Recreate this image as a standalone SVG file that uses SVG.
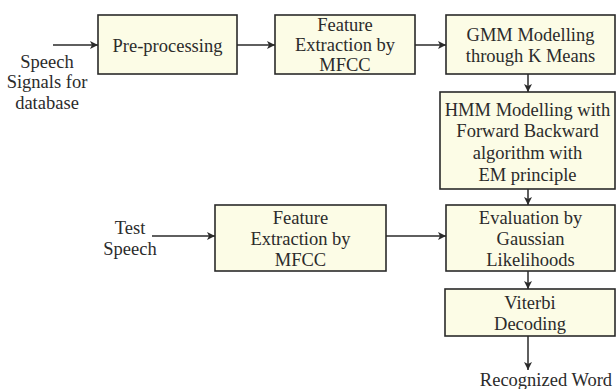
<svg xmlns="http://www.w3.org/2000/svg" width="616" height="389" viewBox="0 0 616 389">
  <style>
    .box { fill: #fcfce6; stroke: #2a2a2a; stroke-width: 1.6; }
    .lbl { font-family: "Liberation Serif", "Times New Roman", serif; font-size: 18.5px; fill: #2b2b2b; text-anchor: middle; }
    .wire { stroke: #2a2a2a; stroke-width: 1.5; fill: none; marker-end: url(#arrow); }
  </style>
  <defs>
    <marker id="arrow" viewBox="0 0 10 10" refX="10" refY="5" markerWidth="8" markerHeight="8" markerUnits="userSpaceOnUse" orient="auto">
      <path d="M0,0 L10,5 L0,10 L2.5,5 Z" fill="#2a2a2a"/>
    </marker>
  </defs>
  <rect width="616" height="389" fill="#ffffff"/>

  <!-- free-standing inputs and output -->
  <g id="input-db">
    <text class="lbl" x="47" y="68">Speech</text>
    <text class="lbl" x="47" y="88">Signals for</text>
    <text class="lbl" x="47" y="109">database</text>
  </g>
  <g id="input-test">
    <text class="lbl" x="130" y="234">Test</text>
    <text class="lbl" x="130" y="255">Speech</text>
  </g>
  <g id="output-word">
    <text class="lbl" x="546" y="386">Recognized Word</text>
  </g>

  <!-- processing blocks -->
  <g id="preprocessing">
    <rect class="box" x="98" y="15" width="139" height="59"/>
    <text class="lbl" x="167.5" y="52">Pre-processing</text>
  </g>
  <g id="mfcc-train">
    <rect class="box" x="275" y="15" width="140" height="59"/>
    <text class="lbl" x="345" y="31">Feature</text>
    <text class="lbl" x="345" y="51">Extraction by</text>
    <text class="lbl" x="345" y="71">MFCC</text>
  </g>
  <g id="gmm">
    <rect class="box" x="446" y="15" width="169" height="59"/>
    <text class="lbl" x="530.5" y="41">GMM Modelling</text>
    <text class="lbl" x="530.5" y="62">through K Means</text>
  </g>
  <g id="hmm">
    <rect class="box" x="440" y="92" width="175" height="97"/>
    <text class="lbl" x="527.5" y="116">HMM Modelling with</text>
    <text class="lbl" x="527.5" y="137">Forward Backward</text>
    <text class="lbl" x="527.5" y="159">algorithm with</text>
    <text class="lbl" x="527.5" y="181">EM principle</text>
  </g>
  <g id="mfcc-test">
    <rect class="box" x="215" y="205" width="171" height="66"/>
    <text class="lbl" x="300.5" y="224">Feature</text>
    <text class="lbl" x="300.5" y="245">Extraction by</text>
    <text class="lbl" x="300.5" y="266">MFCC</text>
  </g>
  <g id="evaluation">
    <rect class="box" x="446" y="205" width="169" height="66"/>
    <text class="lbl" x="530.5" y="224">Evaluation by</text>
    <text class="lbl" x="530.5" y="245">Gaussian</text>
    <text class="lbl" x="530.5" y="266">Likelihoods</text>
  </g>
  <g id="viterbi">
    <rect class="box" x="445" y="289" width="170" height="47"/>
    <text class="lbl" x="530" y="309">Viterbi</text>
    <text class="lbl" x="530" y="330">Decoding</text>
  </g>

  <!-- connectors -->
  <g id="connectors">
    <line class="wire" x1="53" y1="45" x2="98" y2="45"/>
    <line class="wire" x1="237" y1="45" x2="275" y2="45"/>
    <line class="wire" x1="415" y1="45" x2="446" y2="45"/>
    <line class="wire" x1="528" y1="74" x2="528" y2="92"/>
    <line class="wire" x1="528" y1="189" x2="528" y2="205"/>
    <line class="wire" x1="152" y1="236" x2="215" y2="236"/>
    <line class="wire" x1="386" y1="236" x2="446" y2="236"/>
    <line class="wire" x1="528" y1="271" x2="528" y2="289"/>
    <line class="wire" x1="528" y1="336" x2="528" y2="370"/>
  </g>
</svg>
